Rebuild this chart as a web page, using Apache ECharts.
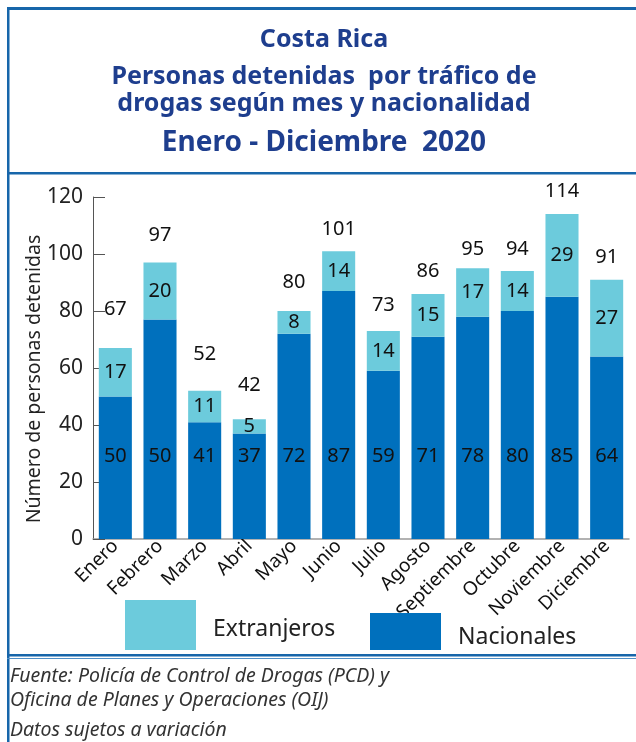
<!DOCTYPE html>
<html>
<head>
    <meta charset="utf-8">
    <title>Costa Rica - Personas detenidas</title>
    <script src="https://cdn.jsdelivr.net/npm/echarts@6/dist/echarts.min.js"></script>
    <style>
        html, body { margin: 0; padding: 0; background: #fff; }
    </style>
</head>
<body>

<div id="main" style="width: 636px;height:742px;"></div>

<script type="text/javascript">

    // datos
    var meses = ['Enero', 'Febrero', 'Marzo', 'Abril', 'Mayo', 'Junio', 'Julio',
        'Agosto', 'Septiembre', 'Octubre', 'Noviembre', 'Diciembre'];
    var nacionales = [50, 77, 41, 37, 72, 87, 59, 71, 78, 80, 85, 64];
    var extranjeros = [17, 20, 11, 5, 8, 14, 14, 15, 17, 14, 29, 27];
    var totales = [67, 97, 52, 42, 80, 101, 73, 86, 95, 94, 114, 91];
    // etiqueta tal como aparece en la figura (Febrero dice 50)
    var etiquetasNacionales = ['50', '50', '41', '37', '72', '87', '59', '71', '78', '80', '85', '64'];
    var ticksY = [0, 20, 40, 60, 80, 100, 120];

    // separacion de la etiqueta del total sobre cada barra (px)
    var separacionTotal = [29, 17, 27, 24, 19, 12, 16, 13, 9, 12, 13, 12];

    var azul = '#0070bd';
    var celeste = '#6ccbdc';
    var marco = '#1766aa';
    var tituloColor = '#1e3e8e';

    var myChart = echarts.init(document.getElementById('main'), null, {renderer: 'canvas'});

    var totalData = totales.map(function (v, i) {
        return {value: v, label: {distance: separacionTotal[i]}};
    });

    function titulo(texto, y, size) {
        return {
            type: 'text', x: 324, y: y,
            style: {
                text: texto, fill: tituloColor, align: 'center', verticalAlign: 'middle',
                font: 'bold ' + size + 'px "Noto Sans", sans-serif'
            }
        };
    }

    function nota(texto, y) {
        return {
            type: 'text', x: 10, y: y,
            style: {
                text: texto, fill: '#333', verticalAlign: 'middle',
                font: 'italic 19.5px "Noto Sans", sans-serif'
            }
        };
    }

    function etiqueta(extra) {
        return Object.assign({fontSize: 20, color: '#111', fontFamily: 'Noto Sans'}, extra || {});
    }

    function leyenda(nombre, left, top, alto, bajar) {
        return {
            data: [nombre], left: left, top: top, padding: 0,
            itemWidth: 71, itemHeight: alto, icon: 'rect', selectedMode: false,
            formatter: '{t|{name}}',
            textStyle: {
                fontSize: 23, color: '#222', fontFamily: 'Noto Sans', padding: [0, 0, 0, 12],
                rich: {t: {fontSize: 23, color: '#222', fontFamily: 'Noto Sans', padding: [bajar, 0, 0, 0]}}
            }
        };
    }

    myChart.setOption({
        animation: false,
        grid: {left: 93, right: 7, top: 197, bottom: 203},
        legend: [
            leyenda('Extranjeros', 125, 600, 50, 8),
            leyenda('Nacionales', 370, 613, 37, 12)
        ],
        xAxis: {
            type: 'category',
            data: meses,
            axisLine: {lineStyle: {color: '#999', width: 1.5}},
            axisTick: {inside: true, length: 8, lineStyle: {color: '#444'}},
            axisLabel: etiqueta({rotate: 45, interval: 0, margin: 4, fontSize: 19})
        },
        yAxis: {
            type: 'value',
            min: ticksY[0], max: ticksY[ticksY.length - 1], interval: 20,
            name: 'Número de personas detenidas',
            nameLocation: 'middle', nameGap: 49, nameRotate: 90, nameMoveOverlap: false,
            nameTextStyle: {fontSize: 19.5, color: '#222', fontFamily: 'Noto Sans', padding: [0, 22, 0, 0]},
            axisLine: {show: true, lineStyle: {color: '#555', width: 1}},
            axisTick: {show: true, inside: true, length: 12, lineStyle: {color: '#555'}},
            splitLine: {show: false},
            axisLabel: {fontSize: 21, color: '#222', fontFamily: 'Noto Sans', margin: 10}
        },
        series: [
            {
                name: 'Total', type: 'bar', data: totalData,
                barGap: '-100%', barCategoryGap: '26%', z: 1, silent: true,
                itemStyle: {color: 'rgba(0,0,0,0)'},
                label: etiqueta({show: true, position: 'top'})
            },
            {
                name: 'Nacionales', type: 'bar', stack: 'total', data: nacionales,
                barCategoryGap: '26%', z: 2,
                itemStyle: {color: azul},
                label: etiqueta({
                    show: true, position: 'insideBottom', distance: 73,
                    formatter: function (p) { return etiquetasNacionales[p.dataIndex]; }
                })
            },
            {
                name: 'Extranjeros', type: 'bar', stack: 'total', data: extranjeros,
                barCategoryGap: '26%', z: 2,
                itemStyle: {color: celeste},
                label: etiqueta({show: true, position: 'inside'})
            }
        ],
        graphic: [
            {type: 'rect', shape: {x: 7, y: 7, width: 640, height: 3}, style: {fill: marco}},
            {type: 'rect', shape: {x: 7, y: 7, width: 2.5, height: 740}, style: {fill: marco}},
            {type: 'rect', shape: {x: 7, y: 172, width: 640, height: 2.5}, style: {fill: marco}},
            {type: 'rect', shape: {x: 7, y: 654, width: 640, height: 2.5}, style: {fill: marco}},
            {type: 'rect', shape: {x: 7, y: 658, width: 640, height: 1}, style: {fill: '#4f8fc6'}},
            titulo('Costa Rica', 40, 25),
            titulo('Personas detenidas  por tráfico de', 77, 25),
            titulo('drogas según mes y nacionalidad', 104, 25),
            titulo('Enero - Diciembre  2020', 143, 28),
            nota('Fuente: Policía de Control de Drogas (PCD) y', 676),
            nota('Oficina de Planes y Operaciones (OIJ)', 700),
            nota('Datos sujetos a variación', 730)
        ]
    });

</script>
</body>
</html>
